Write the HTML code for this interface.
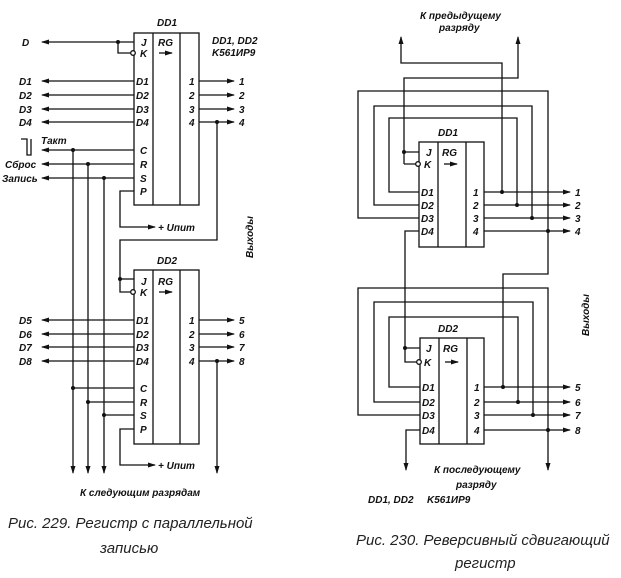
<!DOCTYPE html>
<html><head><meta charset="utf-8"><style>
html,body{margin:0;padding:0;background:#fff}
svg{display:block}
text{font-family:"Liberation Sans",sans-serif;font-style:italic;font-weight:bold;font-size:10px;fill:#111}
.cap{font-style:italic;font-weight:normal;font-size:15px;fill:#222}
</style></head><body>
<svg width="621" height="578" viewBox="0 0 621 578" xmlns="http://www.w3.org/2000/svg">
<defs>
<marker id="a" markerWidth="8" markerHeight="6" refX="7" refY="3" orient="auto" markerUnits="userSpaceOnUse"><path d="M0,0.5 L8,3 L0,5.5 Z" fill="#111"/></marker>
</defs>
<g stroke="#111" stroke-width="1.3" fill="none">
<rect x="134" y="33" width="65" height="172"/>
<line x1="153" y1="33" x2="153" y2="205"/><line x1="180" y1="33" x2="180" y2="205"/>
<rect x="134" y="270" width="65" height="174"/>
<line x1="153" y1="270" x2="153" y2="444"/><line x1="180" y1="270" x2="180" y2="444"/>
<line x1="134" y1="42" x2="42" y2="42" marker-end="url(#a)"/>
<path d="M118,42 V53 H131"/>
<circle cx="133" cy="53" r="2.3" fill="#fff"/>
<line x1="134" y1="81" x2="42" y2="81" marker-end="url(#a)"/>
<line x1="134" y1="95" x2="42" y2="95" marker-end="url(#a)"/>
<line x1="134" y1="109" x2="42" y2="109" marker-end="url(#a)"/>
<line x1="134" y1="122" x2="42" y2="122" marker-end="url(#a)"/>
<line x1="199" y1="81" x2="234" y2="81" marker-end="url(#a)"/>
<line x1="199" y1="95" x2="234" y2="95" marker-end="url(#a)"/>
<line x1="199" y1="109" x2="234" y2="109" marker-end="url(#a)"/>
<line x1="199" y1="122" x2="234" y2="122" marker-end="url(#a)"/>
<path d="M217,122 V240 H120 V292 H131"/>
<line x1="120" y1="279" x2="134" y2="279"/>
<circle cx="133" cy="292" r="2.3" fill="#fff"/>
<line x1="134" y1="150" x2="42" y2="150" marker-end="url(#a)"/>
<line x1="134" y1="164" x2="42" y2="164" marker-end="url(#a)"/>
<line x1="134" y1="178" x2="42" y2="178" marker-end="url(#a)"/>
<path d="M21,139 H27 V155 H31 V139"/>
<line x1="73" y1="150" x2="73" y2="473" marker-end="url(#a)"/>
<line x1="88" y1="164" x2="88" y2="473" marker-end="url(#a)"/>
<line x1="104" y1="178" x2="104" y2="473" marker-end="url(#a)"/>
<line x1="73" y1="388" x2="134" y2="388"/>
<line x1="88" y1="402" x2="134" y2="402"/>
<line x1="104" y1="415" x2="134" y2="415"/>
<path d="M134,191 H120 V227 H155" marker-end="url(#a)"/>
<path d="M134,429 H120 V465 H155" marker-end="url(#a)"/>
<line x1="134" y1="320" x2="42" y2="320" marker-end="url(#a)"/>
<line x1="134" y1="334" x2="42" y2="334" marker-end="url(#a)"/>
<line x1="134" y1="347" x2="42" y2="347" marker-end="url(#a)"/>
<line x1="134" y1="361" x2="42" y2="361" marker-end="url(#a)"/>
<line x1="199" y1="320" x2="234" y2="320" marker-end="url(#a)"/>
<line x1="199" y1="334" x2="234" y2="334" marker-end="url(#a)"/>
<line x1="199" y1="347" x2="234" y2="347" marker-end="url(#a)"/>
<line x1="199" y1="361" x2="234" y2="361" marker-end="url(#a)"/>
<line x1="217" y1="361" x2="217" y2="473" marker-end="url(#a)"/>
<line x1="159" y1="53" x2="172" y2="53" marker-end="url(#a)"/>
<line x1="159" y1="292" x2="172" y2="292" marker-end="url(#a)"/>

<rect x="419" y="142" width="65" height="105"/>
<line x1="438" y1="142" x2="438" y2="247"/><line x1="466" y1="142" x2="466" y2="247"/>
<rect x="420" y="338" width="64" height="106"/>
<line x1="439" y1="338" x2="439" y2="444"/><line x1="467" y1="338" x2="467" y2="444"/>
<line x1="444" y1="164" x2="457" y2="164" marker-end="url(#a)"/>
<line x1="445" y1="362" x2="458" y2="362" marker-end="url(#a)"/>
<path d="M502,192 V63 H401 V37" marker-end="url(#a)"/>
<path d="M404,164 H416 M404,152 H419 M404,164 V78 H518 V37" marker-end="url(#a)"/>
<circle cx="418" cy="164" r="2.3" fill="#fff"/>
<path d="M419,218 H358 V91 H548 V231"/>
<path d="M419,205 H374 V106 H532 V218"/>
<path d="M419,192 H389 V118 H517 V205"/>
<line x1="484" y1="192" x2="570" y2="192" marker-end="url(#a)"/>
<line x1="484" y1="205" x2="570" y2="205" marker-end="url(#a)"/>
<line x1="484" y1="218" x2="570" y2="218" marker-end="url(#a)"/>
<line x1="484" y1="231" x2="570" y2="231" marker-end="url(#a)"/>
<path d="M419,231 H405 V362 H417 M405,348 H420"/>
<circle cx="419" cy="362" r="2.3" fill="#fff"/>
<path d="M548,231 V274 H503 V387"/>
<path d="M420,415 H358 V288 H548 V430"/>
<path d="M420,402 H374 V302 H533 V415"/>
<path d="M420,387 H389 V317 H518 V402"/>
<line x1="484" y1="387" x2="570" y2="387" marker-end="url(#a)"/>
<line x1="484" y1="402" x2="570" y2="402" marker-end="url(#a)"/>
<line x1="484" y1="415" x2="570" y2="415" marker-end="url(#a)"/>
<line x1="484" y1="430" x2="570" y2="430" marker-end="url(#a)"/>
<path d="M420,430 H406 V470" marker-end="url(#a)"/>
<line x1="548" y1="430" x2="548" y2="470" marker-end="url(#a)"/>
</g>
<g fill="#111">
<circle cx="118" cy="42" r="2"/><circle cx="217" cy="122" r="2"/><circle cx="120" cy="279" r="2"/>
<circle cx="73" cy="150" r="2"/><circle cx="88" cy="164" r="2"/><circle cx="104" cy="178" r="2"/>
<circle cx="73" cy="388" r="2"/><circle cx="88" cy="402" r="2"/><circle cx="104" cy="415" r="2"/>
<circle cx="217" cy="361" r="2"/>
<circle cx="404" cy="152" r="2"/><circle cx="405" cy="348" r="2"/>
<circle cx="502" cy="192" r="2"/><circle cx="517" cy="205" r="2"/><circle cx="532" cy="218" r="2"/><circle cx="548" cy="231" r="2"/>
<circle cx="503" cy="387" r="2"/><circle cx="518" cy="402" r="2"/><circle cx="533" cy="415" r="2"/><circle cx="548" cy="430" r="2"/>
</g>
<text x="157" y="26">DD1</text>
<text x="157" y="264">DD2</text>
<text x="212" y="44">DD1, DD2</text>
<text x="212" y="56">K561ИР9</text>
<text x="22" y="46">D</text>
<text x="141" y="46">J</text><text x="140" y="57">K</text><text x="158" y="46">RG</text>
<text x="141" y="285">J</text><text x="140" y="296">K</text><text x="158" y="285">RG</text>
<g>
<text x="19" y="85">D1</text><text x="19" y="99">D2</text><text x="19" y="113">D3</text><text x="19" y="126">D4</text>
<text x="19" y="324">D5</text><text x="19" y="338">D6</text><text x="19" y="351">D7</text><text x="19" y="365">D8</text>
<text x="136" y="85">D1</text><text x="136" y="99">D2</text><text x="136" y="113">D3</text><text x="136" y="126">D4</text>
<text x="136" y="324">D1</text><text x="136" y="338">D2</text><text x="136" y="351">D3</text><text x="136" y="365">D4</text>
<text x="189" y="85">1</text><text x="189" y="99">2</text><text x="189" y="113">3</text><text x="189" y="126">4</text>
<text x="189" y="324">1</text><text x="189" y="338">2</text><text x="189" y="351">3</text><text x="189" y="365">4</text>
<text x="239" y="85">1</text><text x="239" y="99">2</text><text x="239" y="113">3</text><text x="239" y="126">4</text>
<text x="239" y="324">5</text><text x="239" y="338">6</text><text x="239" y="351">7</text><text x="239" y="365">8</text>
<text x="140" y="154">C</text><text x="140" y="168">R</text><text x="140" y="182">S</text><text x="140" y="195">P</text>
<text x="140" y="392">C</text><text x="140" y="406">R</text><text x="140" y="419">S</text><text x="140" y="433">P</text>
</g>
<text x="41" y="144">Такт</text>
<text x="5" y="168">Сброс</text>
<text x="2" y="182">Запись</text>
<text x="158" y="231">+ Uпит</text>
<text x="158" y="469">+ Uпит</text>
<text x="80" y="496">К следующим разрядам</text>
<text transform="translate(253,258) rotate(-90)">Выходы</text>
<text class="cap" x="8" y="528">Рис. 229. Регистр с параллельной</text>
<text class="cap" x="100" y="553">записью</text>
<text x="420" y="19">К предыдущему</text>
<text x="439" y="31">разряду</text>
<text x="438" y="136">DD1</text>
<text x="438" y="332">DD2</text>
<text x="426" y="156">J</text><text x="424" y="168">K</text><text x="442" y="156">RG</text>
<text x="426" y="352">J</text><text x="424" y="366">K</text><text x="443" y="352">RG</text>
<text x="421" y="196">D1</text><text x="421" y="209">D2</text><text x="421" y="222">D3</text><text x="421" y="235">D4</text>
<text x="422" y="391">D1</text><text x="422" y="406">D2</text><text x="422" y="419">D3</text><text x="422" y="434">D4</text>
<text x="473" y="196">1</text><text x="473" y="209">2</text><text x="473" y="222">3</text><text x="473" y="235">4</text>
<text x="474" y="391">1</text><text x="474" y="406">2</text><text x="474" y="419">3</text><text x="474" y="434">4</text>
<text x="575" y="196">1</text><text x="575" y="209">2</text><text x="575" y="222">3</text><text x="575" y="235">4</text>
<text x="575" y="391">5</text><text x="575" y="406">6</text><text x="575" y="419">7</text><text x="575" y="434">8</text>
<text x="434" y="473">К последующему</text>
<text x="456" y="488">разряду</text>
<text x="368" y="503">DD1, DD2</text>
<text x="427" y="503">K561ИР9</text>
<text transform="translate(589,336) rotate(-90)">Выходы</text>
<text class="cap" x="356" y="545">Рис. 230. Реверсивный сдвигающий</text>
<text class="cap" x="455" y="568">регистр</text>
</svg>
</body></html>
